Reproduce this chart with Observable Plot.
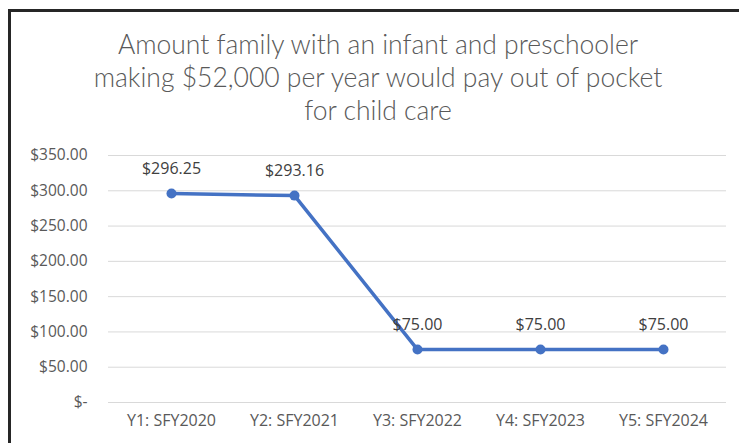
<!DOCTYPE html>
<html>
<head>
<meta charset="utf-8">
<script src="https://cdn.jsdelivr.net/npm/d3@7"></script>
<script src="https://cdn.jsdelivr.net/npm/@observablehq/plot@0.6"></script>
<style>
  html, body { margin: 0; padding: 0; background: #fff; }
  #wrap { position: relative; width: 739px; height: 443px; overflow: hidden; background: #fff; }
  #border { position: absolute; left: 8px; top: 9px; width: 800px; height: 500px;
            border-left: 3px solid #262626; border-top: 3px solid #262626; box-sizing: border-box; }
  #title { position: absolute; left: 28px; width: 700px; top: 28px; text-align: center;
           font-family: Lato, "Open Sans", sans-serif; font-weight: 300; font-size: 26.5px;
           line-height: 33px; color: #595959; }
  #chart { position: absolute; left: 0; top: 0; }
</style>
</head>
<body>
<div id="wrap">
  <div id="border"></div>
  <div id="chart"></div>
  <div id="title">Amount family with an infant and preschooler<br>making $52,000 per year would pay out of pocket<br>for child care</div>
</div>
<script>
const categories = ["Y1: SFY2020", "Y2: SFY2021", "Y3: SFY2022", "Y4: SFY2023", "Y5: SFY2024"];
const values = [296.25, 293.16, 75.00, 75.00, 75.00];
const yTicks = [0, 50, 100, 150, 200, 250, 300, 350];

const data = categories.map((c, i) => ({category: c, value: values[i]}));
const money = v => v === 0 ? "$-" : "$" + d3.format(",.2f")(v);

const font = "'Open Sans', Lato, sans-serif";
const chart = Plot.plot({
  width: 739,
  height: 443,
  marginTop: 155,
  marginBottom: 41,
  marginLeft: 108,
  marginRight: 13,
  style: {fontFamily: font, fontSize: "16px", color: "#595959", background: "transparent"},
  x: {type: "point", domain: categories, padding: 0.5, label: null},
  y: {domain: [0, 350], label: null},
  marks: [
    Plot.gridY(yTicks, {stroke: "#d9d9d9", strokeOpacity: 1, strokeWidth: 1}),
    Plot.axisY(yTicks, {tickSize: 0, tickPadding: 21, tickFormat: money, fill: "#595959", fontSize: 15.5, label: null}),
    Plot.axisX({tickSize: 0, tickPadding: 12, fill: "#595959", fontSize: 16, label: null}),
    Plot.line(data, {x: "category", y: "value", stroke: "#4472C4", strokeWidth: 3.5}),
    Plot.dot(data, {x: "category", y: "value", fill: "#4472C4", r: 5}),
    Plot.text(data, {x: "category", y: "value", text: d => money(d.value), dy: -25, fill: "#404040", fontSize: 16})
  ]
});
document.getElementById("chart").appendChild(chart);
</script>
</body>
</html>
